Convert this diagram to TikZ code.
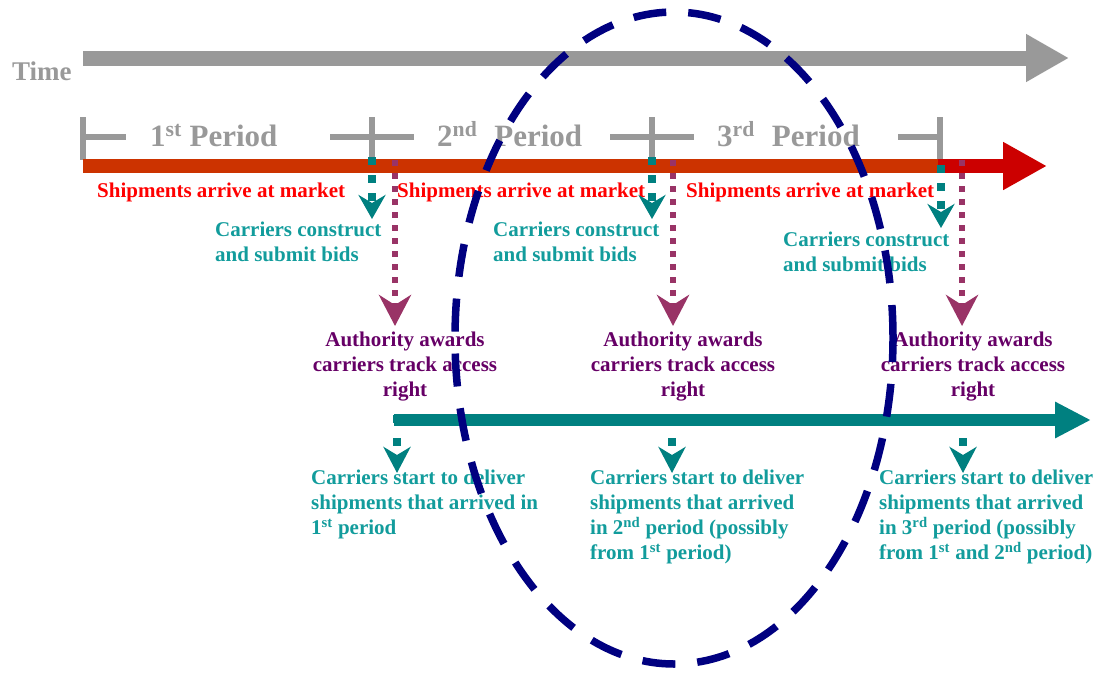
\documentclass[tikz,border=0pt]{standalone}
\usepackage{fontspec}
\setmainfont{Liberation Serif}
\usetikzlibrary{arrows.meta}
\definecolor{tgray}{HTML}{999999}
\definecolor{barorange}{HTML}{CC3300}
\definecolor{barred}{HTML}{CC0000}
\definecolor{tealarrow}{HTML}{008080}
\definecolor{tealtxt}{HTML}{129C9C}
\definecolor{purplearrow}{HTML}{993366}
\definecolor{purpletxt}{HTML}{660066}
\definecolor{shipred}{HTML}{FF0000}
\definecolor{navy}{HTML}{000080}
\begin{document}
\begin{tikzpicture}[x=1pt,y=-1pt,
  txt/.style={inner sep=0pt, font=\fontsize{21}{25}\selectfont\bfseries},
  redtxt/.style={txt, text=shipred, anchor=base west},
  bidtxt/.style={txt, text=tealtxt, align=left, anchor=north west},
  awardtxt/.style={txt, text=purpletxt, align=center, anchor=north},
  delivtxt/.style={txt, text=tealtxt, align=left, anchor=north west},
  periodtxt/.style={inner sep=0pt, font=\fontsize{31}{36}\selectfont\bfseries, text=tgray, anchor=base west},
  timetxt/.style={inner sep=0pt, font=\fontsize{27}{32}\selectfont\bfseries, text=tgray, anchor=base west},
  tick/.style={draw=tgray, line width=6.5pt},
  bidarrow/.style={draw=tealarrow, line width=8pt, dash pattern=on 8pt off 10pt, -{Stealth[length=24pt,width=27pt,inset=8pt]}},
  awardarrow/.style={draw=purplearrow, line width=6pt, dash pattern=on 6pt off 7pt, -{Stealth[length=31pt,width=32pt,inset=10pt]}},
  delivarrow/.style={draw=tealarrow, line width=8pt, dash pattern=on 8pt off 15pt, -{Stealth[length=26pt,width=27pt,inset=8pt]}},
  focus/.style={draw=navy, line width=7.5pt, dash pattern=on 33pt off 22pt}
]
\useasboundingbox (0,0) rectangle (1099,672);

% time axis
\coordinate (t0) at (83,58);
\coordinate (t1) at (1069,58);
\draw[tgray, line width=15pt, -{Triangle[length=43pt,width=45pt]}] (t0) -- (t1);
\node[timetxt] (time) at (12,80) {Time};

% period ticks
\draw[tick] (83,117) -- (83,160) (83,137) -- (126,137);
\draw[tick] (372,117) -- (372,158) (330,137) -- (414,137);
\draw[tick] (652,117) -- (652,158) (610,137) -- (694,137);
\draw[tick] (898,137) -- (940,137) (940,117) -- (940,160);
\node[periodtxt] (p1) at (150,146) {1\textsuperscript{st} Period};
\node[periodtxt] (p2) at (437,146) {2\textsuperscript{nd}\hspace{0.55em}Period};
\node[periodtxt] (p3) at (717,146) {3\textsuperscript{rd}\hspace{0.55em}Period};

% market timeline
\fill[barorange] (83,159) rectangle (940,173);
\coordinate (r0) at (938,166);
\coordinate (r1) at (1047,166);
\draw[barred, line width=14pt, -{Triangle[length=44pt,width=45pt]}] (r0) -- (r1);

% delivery timeline
\coordinate (d0) at (394,420);
\coordinate (d1) at (1091,420);
\draw[tealarrow, line width=12pt, -{Triangle[length=36pt,width=34pt]}] (d0) -- (d1);

% texts
\node[redtxt] (s1) at (97,197) {Shipments arrive at market};
\node[redtxt] (s2) at (397,197) {Shipments arrive at market};
\node[redtxt] (s3) at (686,197) {Shipments arrive at market};

\node[bidtxt] (b1) at (215,222) {Carriers construct\\and submit bids};
\node[bidtxt] (b2) at (493,222) {Carriers construct\\and submit bids};
\node[bidtxt] (b3) at (783,232) {Carriers construct\\and submit bids};

\node[awardtxt] (a1) at (405,332) {Authority awards\\carriers track access\\right};
\node[awardtxt] (a2) at (683,332) {Authority awards\\carriers track access\\right};
\node[awardtxt] (a3) at (973,332) {Authority awards\\carriers track access\\right};

\node[delivtxt] (v1) at (311,470) {Carriers start to deliver\\shipments that arrived in\\1\textsuperscript{st} period};
\node[delivtxt] (v2) at (590,470) {Carriers start to deliver\\shipments that arrived\\in 2\textsuperscript{nd} period (possibly\\from 1\textsuperscript{st} period)};
\node[delivtxt] (v3) at (879,470) {Carriers start to deliver\\shipments that arrived\\in 3\textsuperscript{rd} period (possibly\\from 1\textsuperscript{st} and 2\textsuperscript{nd} period)};

% bid arrows
\coordinate (bs1) at (372,157); \coordinate (be1) at (372,219);
\coordinate (bs2) at (652,157); \coordinate (be2) at (652,219);
\coordinate (bs3) at (941,165); \coordinate (be3) at (941,228);
\draw[bidarrow] (bs1) -- (be1);
\draw[bidarrow] (bs2) -- (be2);
\draw[bidarrow] (bs3) -- (be3);

% award arrows
\coordinate (as1) at (395,160); \coordinate (ae1) at (395,326);
\coordinate (as2) at (673,160); \coordinate (ae2) at (673,326);
\coordinate (as3) at (962,160); \coordinate (ae3) at (962,326);
\draw[awardarrow] (as1) -- (ae1);
\draw[awardarrow] (as2) -- (ae2);
\draw[awardarrow] (as3) -- (ae3);

% delivery arrows
\coordinate (ds1) at (397,415); \coordinate (de1) at (397,473);
\coordinate (ds2) at (672,415); \coordinate (de2) at (672,473);
\coordinate (ds3) at (963,415); \coordinate (de3) at (963,473);
\draw[delivarrow] (ds1) -- (de1);
\draw[delivarrow] (ds2) -- (de2);
\draw[delivarrow] (ds3) -- (de3);

% focus ellipse
\draw[focus] (674,338) ellipse [x radius=219pt, y radius=326pt];
\end{tikzpicture}
\end{document}
